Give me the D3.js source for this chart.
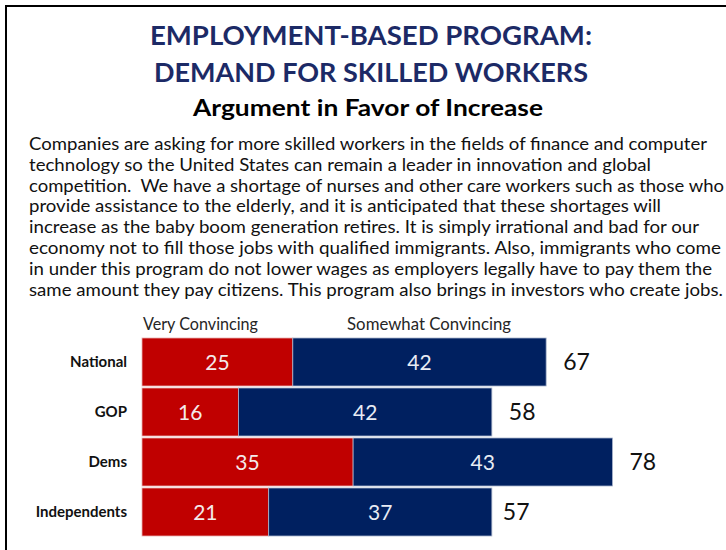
<!DOCTYPE html>
<html>
<meta charset="utf-8">
<style>
	body { margin:0; padding:0; background:#fff; }
	svg { display:block; }
	text { font-family: Lato, "Open Sans", sans-serif; }
</style>
<body>
<svg id="chart" width="726" height="550"></svg>
<script src="https://cdn.jsdelivr.net/npm/d3@7/dist/d3.min.js"></script>
<script>
// ---- data ----
var titleLines = ["EMPLOYMENT-BASED PROGRAM:", "DEMAND FOR SKILLED WORKERS"];
var subtitle = "Argument in Favor of Increase";
var paragraph = [
	"Companies are asking for more skilled workers in the fields of finance and computer",
	"technology so the United States can remain a leader in innovation and global",
	"competition.  We have a shortage of nurses and other care workers such as those who",
	"provide assistance to the elderly, and it is anticipated that these shortages will",
	"increase as the baby boom generation retires. It is simply irrational and bad for our",
	"economy not to fill those jobs with qualified immigrants. Also, immigrants who come",
	"in under this program do not lower wages as employers legally have to pay them the",
	"same amount they pay citizens. This program also brings in investors who create jobs."
];
var groups = ["National", "GOP", "Dems", "Independents"];
var seriesNames = ["Very Convincing", "Somewhat Convincing"];
var veryConvincing = [25, 16, 35, 21];
var somewhatConvincing = [42, 42, 43, 37];
var totals = [67, 58, 78, 57];

// ---- layout ----
var paraWidths = [678, 622, 695, 632, 670, 692, 683, 694];
var colors = ["#C00000", "#002060"];

var svg = d3.select("#chart");

// frame lines (left + top)
svg.append("rect").attr("x", 5).attr("y", 5).attr("width", 2).attr("height", 545).attr("fill", "#000");
svg.append("rect").attr("x", 5).attr("y", 5).attr("width", 721).attr("height", 2).attr("fill", "#000");

function fit(sel, w) {
	sel.attr("textLength", w).attr("lengthAdjust", "spacingAndGlyphs");
}

// titles
var titleW = [442, 434];
titleLines.forEach(function(t, i) {
	svg.append("text")
		.attr("x", 371).attr("y", 45 + i * 37)
		.attr("text-anchor", "middle")
		.style("font-size", "27px").style("font-weight", "bold")
		.attr("fill", "#1C2A66")
		.text(t)
		.call(fit, titleW[i]);
});
svg.append("text")
	.attr("x", 368).attr("y", 116)
	.attr("text-anchor", "middle")
	.style("font-size", "23px").style("font-weight", "bold")
	.attr("fill", "#000")
	.text(subtitle)
	.call(fit, 350);

// paragraph
svg.append("g").selectAll("text")
	.data(paragraph)
	.enter().append("text")
	.attr("x", 29)
	.attr("y", function(d, i) { return 150 + i * 20.8; })
	.style("font-size", "17.5px")
	.attr("fill", "#111")
	.style("white-space", "pre")
	.text(function(d) { return d; })
	.each(function(d, i) { d3.select(this).call(fit, paraWidths[i]); });

// ---- bars ----
var x = d3.scaleLinear().domain([0, 78]).range([142, 612.5]);
var y = d3.scaleBand().domain(groups).range([338, 536]).paddingInner(0.04);

var rows = groups.map(function(g, i) {
	return { name: g, v: veryConvincing[i], s: somewhatConvincing[i], t: totals[i] };
});

var row = svg.append("g").selectAll(".row")
	.data(rows)
	.enter().append("g").attr("class", "row");

row.append("rect")
	.attr("x", x(0))
	.attr("y", function(d) { return y(d.name); })
	.attr("width", function(d) { return x(d.v) - x(0); })
	.attr("height", y.bandwidth())
	.attr("fill", colors[0])
	.attr("stroke", "#e8b0b0").attr("stroke-width", 0.8);

row.append("rect")
	.attr("x", function(d) { return x(d.v); })
	.attr("y", function(d) { return y(d.name); })
	.attr("width", function(d) { return x(d.v + d.s) - x(d.v); })
	.attr("height", y.bandwidth())
	.attr("fill", colors[1])
	.attr("stroke", "#a8b4cc").attr("stroke-width", 0.8);

row.append("text")
	.attr("x", function(d) { return (x(0) + x(d.v)) / 2; })
	.attr("y", function(d) { return y(d.name) + y.bandwidth() / 2; })
	.attr("dy", "0.36em")
	.attr("text-anchor", "middle")
	.style("font-size", "21px")
	.attr("fill", "#f4eaea")
	.text(function(d) { return d.v; });

row.append("text")
	.attr("x", function(d) { return (x(d.v) + x(d.v + d.s)) / 2; })
	.attr("y", function(d) { return y(d.name) + y.bandwidth() / 2; })
	.attr("dy", "0.36em")
	.attr("text-anchor", "middle")
	.style("font-size", "21px")
	.attr("fill", "#e8ecf4")
	.text(function(d) { return d.s; });

row.append("text")
	.attr("x", function(d) { return x(d.t) + 17; })
	.attr("y", function(d) { return y(d.name) + y.bandwidth() / 2; })
	.attr("dy", "0.36em")
	.style("font-size", "23px")
	.attr("fill", "#111")
	.text(function(d) { return d.t; });

// category labels
var yAxis = svg.append("g")
	.attr("transform", "translate(134,0)")
	.call(d3.axisLeft(y).tickSize(0).tickPadding(7));
yAxis.select(".domain").remove();
yAxis.selectAll("text")
	.style("font-family", "Lato, sans-serif")
	.style("font-size", "15px")
	.style("font-weight", "bold")
	.attr("fill", "#111");

// series labels above bars
var legendX = [x(0) + 1, x(34)];
var legendW = [115, 164];
seriesNames.forEach(function(n, i) {
	svg.append("text")
		.attr("x", legendX[i]).attr("y", 330)
		.style("font-size", "16.5px")
		.attr("fill", "#262626")
		.text(n)
		.call(fit, legendW[i]);
});
</script>
</body>
</html>
